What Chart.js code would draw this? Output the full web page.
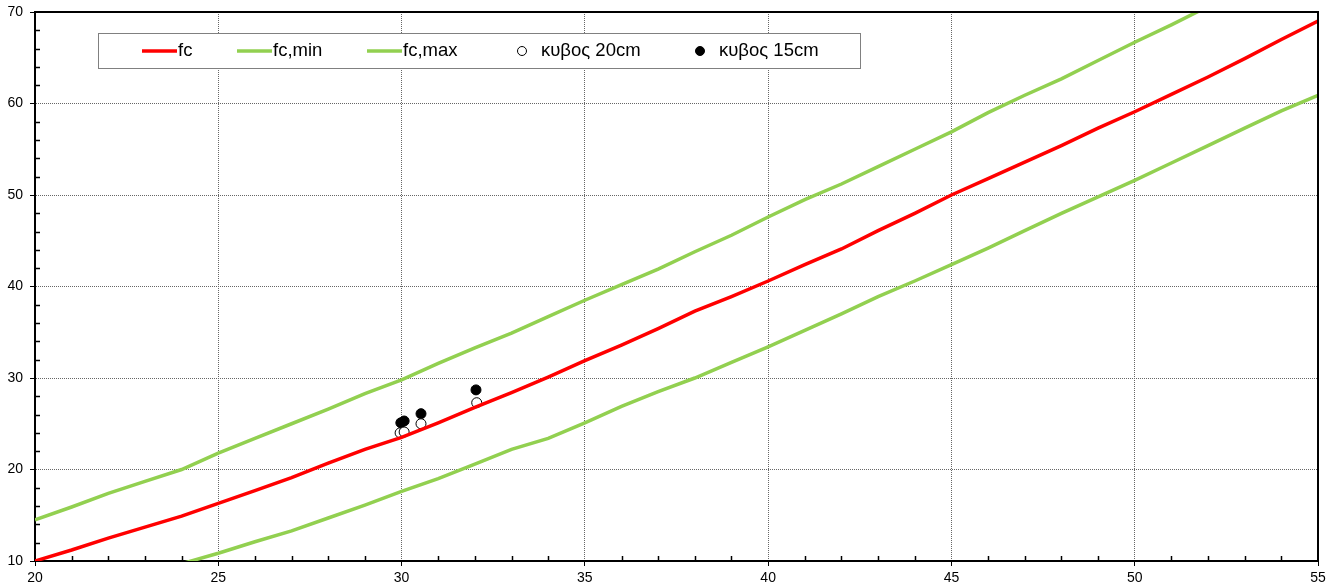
<!DOCTYPE html>
<html>
<head>
<meta charset="utf-8">
<script src="https://cdn.jsdelivr.net/npm/chart.js@4"></script>
<style>
  html, body { margin: 0; padding: 0; background: #fff; }
  #wrap { width: 1338px; height: 584px; }
</style>
</head>
<body>
<div id="wrap"><canvas id="myChart" width="1338" height="584"></canvas></div>
<script>
// x values (rebound index) for the curves
const fcX = [20, 21, 22, 23, 24, 25, 26, 27, 28, 29, 30, 31, 32, 33, 34, 35, 36, 37,
  38, 39, 40, 41, 42, 43, 44, 45, 46, 47, 48, 49, 50, 51, 52, 53, 54, 55];
const fc = [10, 11.2, 12.5, 13.7, 14.9, 16.3, 17.7, 19.1, 20.7, 22.2, 23.5, 25.1, 26.8,
  28.4, 30.1, 31.9, 33.6, 35.4, 37.3, 38.9, 40.6, 42.4, 44.1, 46.1, 48.0, 50.0, 51.8,
  53.6, 55.4, 57.3, 59.1, 61.0, 62.9, 64.9, 67.0, 69.0];

const fcMaxX = [20, 21, 22, 23, 24, 25, 26, 27, 28, 29, 30, 31, 32, 33, 34, 35, 36, 37,
  38, 39, 40, 41, 42, 43, 44, 45, 46, 47, 48, 49, 50, 51, 52];
const fcMax = [14.5, 15.9, 17.4, 18.7, 20.0, 21.8, 23.4, 25.0, 26.6, 28.3, 29.8, 31.6,
  33.3, 34.9, 36.7, 38.5, 40.2, 41.9, 43.8, 45.6, 47.6, 49.5, 51.2, 53.1, 55.0, 56.9,
  59.0, 60.9, 62.7, 64.7, 66.7, 68.6, 70.6];

const fcMinX = [24, 25, 26, 27, 28, 29, 30, 31, 32, 33, 34, 35, 36, 37, 38, 39, 40, 41,
  42, 43, 44, 45, 46, 47, 48, 49, 50, 51, 52, 53, 54, 55];
const fcMin = [9.7, 10.85, 12.1, 13.3, 14.7, 16.1, 17.6, 19.0, 20.6, 22.2, 23.4, 25.1,
  26.9, 28.5, 30.0, 31.7, 33.4, 35.2, 37.0, 38.9, 40.6, 42.4, 44.2, 46.1, 48.0, 49.8,
  51.6, 53.5, 55.4, 57.3, 59.2, 60.9];

// δοκιμια
const cube20X = [29.96, 30.07, 30.53, 32.05];
const cube20 = [24.0, 24.1, 25.0, 27.3];
const cube15X = [29.98, 30.07, 30.53, 32.03];
const cube15 = [25.1, 25.3, 26.1, 28.7];

// ticks
const xMin = 20, xMax = 55, xStep = 5, xMinor = 1;
const yMin = 10, yMax = 70, yStep = 10, yMinor = 2;

const toPts = (xs, ys) => xs.map((x, i) => ({ x: x, y: ys[i] }));

const RED = "#ff0000";
const GREEN = "#92d050";
const FONT = "'Liberation Sans', Arial, sans-serif";

// minor ticks + frame around the plot
const framePlugin = {
  id: "frame",
  afterDraw(chart) {
    const ctx = chart.ctx;
    const a = chart.chartArea;
    const xs = chart.scales.x, ys = chart.scales.y;
    ctx.save();
    ctx.strokeStyle = "#000";
    ctx.lineWidth = 1.5;
    ctx.beginPath();
    for (let v = xMin + xMinor; v < xMax; v += xMinor) {
      if (v % xStep === 0) continue;
      const px = Math.round(xs.getPixelForValue(v)) + 0.5;
      ctx.moveTo(px, a.bottom);
      ctx.lineTo(px, a.bottom - 5);
    }
    for (let v = yMin + yMinor; v < yMax; v += yMinor) {
      if (v % yStep === 0) continue;
      const py = Math.round(ys.getPixelForValue(v)) + 0.5;
      ctx.moveTo(a.left, py);
      ctx.lineTo(a.left + 5, py);
    }
    ctx.stroke();
    ctx.lineWidth = 2;
    ctx.beginPath();
    ctx.moveTo(a.left, a.top);
    ctx.lineTo(a.right, a.top);
    ctx.lineTo(a.right, a.bottom);
    ctx.stroke();
    ctx.restore();
  },
};

// boxed legend inside the plot
const legendPlugin = {
  id: "boxLegend",
  afterDraw(chart) {
    const ctx = chart.ctx;
    const a = chart.chartArea;
    const left = a.left + 63, top = a.top + 21, w = 762, h = 35;
    // where each entry starts (line) or is centred (marker)
    const offs = [44, 139, 269, 424, 602];
    ctx.save();
    ctx.fillStyle = "#fff";
    ctx.fillRect(left, top, w, h);
    ctx.strokeStyle = "#808080";
    ctx.lineWidth = 1;
    ctx.strokeRect(left + 0.5, top + 0.5, w, h);
    ctx.font = "18.5px " + FONT;
    ctx.textBaseline = "middle";
    const cy = top + h / 2 + 0.5;
    chart.data.datasets.forEach((ds, i) => {
      const x0 = left + offs[i];
      if (ds.showLine) {
        ctx.strokeStyle = ds.borderColor;
        ctx.lineWidth = 3.5;
        ctx.beginPath();
        ctx.moveTo(x0, cy);
        ctx.lineTo(x0 + 35, cy);
        ctx.stroke();
        ctx.fillStyle = "#000";
        ctx.fillText(ds.label, x0 + 36, cy);
      } else {
        ctx.beginPath();
        ctx.arc(x0, cy, 4.5, 0, Math.PI * 2);
        ctx.fillStyle = ds.backgroundColor;
        ctx.fill();
        ctx.strokeStyle = "#000";
        ctx.lineWidth = 1;
        ctx.stroke();
        ctx.fillStyle = "#000";
        ctx.fillText(ds.label, x0 + 19, cy);
      }
    });
    ctx.restore();
  },
};

const lineSet = (label, pts, color) => ({
  label: label,
  data: pts,
  showLine: true,
  borderColor: color,
  backgroundColor: color,
  borderWidth: 3.5,
  pointRadius: 0,
  tension: 0,
});

const ctx = document.getElementById("myChart");

new Chart(ctx, {
  type: "scatter",
  data: {
    datasets: [
      lineSet("fc", toPts(fcX, fc), RED),
      lineSet("fc,min", toPts(fcMinX, fcMin), GREEN),
      lineSet("fc,max", toPts(fcMaxX, fcMax), GREEN),
      {
        label: "κυβος 20cm",
        data: toPts(cube20X, cube20),
        backgroundColor: "#fff",
        borderColor: "#000",
        borderWidth: 1,
        pointRadius: 5,
      },
      {
        label: "κυβος 15cm",
        data: toPts(cube15X, cube15),
        backgroundColor: "#000",
        borderColor: "#000",
        borderWidth: 1,
        pointRadius: 5,
      },
    ],
  },
  options: {
    responsive: false,
    animation: false,
    layout: { padding: { top: 12, right: 20, left: 0, bottom: 0 } },
    plugins: {
      legend: { display: false },
      tooltip: { enabled: false },
    },
    scales: {
      x: {
        type: "linear",
        min: xMin,
        max: xMax,
        afterFit: (s) => { s.height = 23; },
        ticks: {
          stepSize: xStep,
          color: "#000",
          padding: 4,
          maxRotation: 0,
          font: { family: FONT, size: 14 },
        },
        grid: { color: "#666", lineWidth: 1, tickLength: 5, tickColor: "#000" },
        border: { color: "#000", width: 2, dash: [1, 1] },
      },
      y: {
        type: "linear",
        min: yMin,
        max: yMax,
        // keep the plot flush with the padding; labels may overhang
        afterFit: (s) => { s.width = 35; s.paddingTop = 0; s.paddingBottom = 0; },
        ticks: {
          stepSize: yStep,
          color: "#000",
          padding: 7,
          font: { family: FONT, size: 14 },
        },
        grid: { color: "#666", lineWidth: 1, tickLength: 5, tickColor: "#000" },
        border: { color: "#000", width: 2, dash: [1, 1] },
      },
    },
  },
  plugins: [framePlugin, legendPlugin],
});
</script>
</body>
</html>
